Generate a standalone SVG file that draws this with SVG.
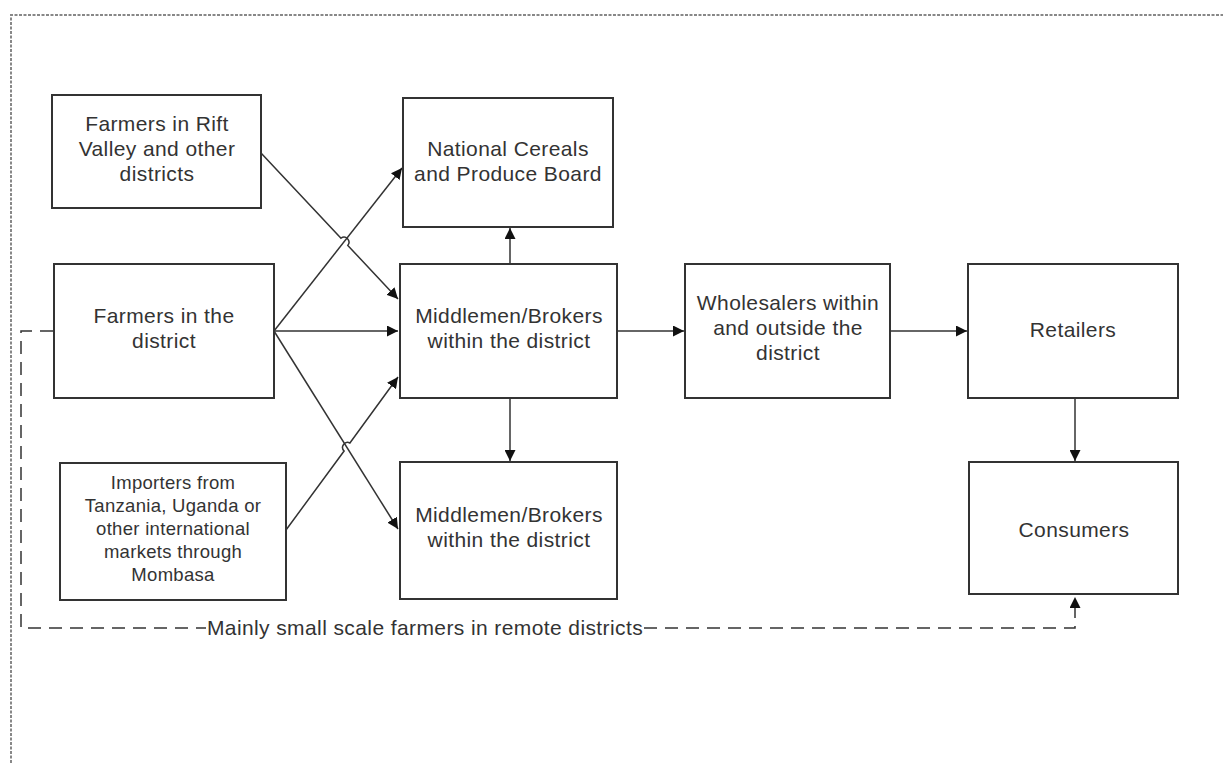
<svg xmlns="http://www.w3.org/2000/svg" width="1223" height="763" viewBox="0 0 1223 763">
<defs>
<style>
.box{fill:#fff;stroke:#333;stroke-width:2}
.t{font-family:"Liberation Sans",Arial,sans-serif;font-size:21px;letter-spacing:0.4px;fill:#333;text-anchor:middle}
.ts{font-family:"Liberation Sans",Arial,sans-serif;font-size:18.5px;letter-spacing:0.3px;fill:#333;text-anchor:middle}
.c{fill:none;stroke:#333;stroke-width:1.5}
.d{fill:none;stroke:#333;stroke-width:1.5;stroke-dasharray:13 8}
</style>
<marker id="ah" viewBox="0 0 10 10" refX="10" refY="5" markerWidth="11" markerHeight="11" markerUnits="userSpaceOnUse" orient="auto">
<path d="M0,0 L10,5 L0,10 z" fill="#111"/>
</marker>
</defs>
<rect width="1223" height="763" fill="#fff"/>
<path d="M11,763 V15 H1223" fill="none" stroke="#888" stroke-width="2" stroke-dasharray="3 1.5"/>

<g id="connectors">
<path class="c" d="M274,331 H398" marker-end="url(#ah)"/>
<path class="c" d="M274,331 L402,168" marker-end="url(#ah)"/>
<path class="c" d="M274,331 L398,529" marker-end="url(#ah)"/>
<path class="c" d="M261,153 L341,238.2 A5,5 0 0 1 347.8,245.4 L398,299" marker-end="url(#ah)"/>
<path class="c" d="M286,530 L344.1,451 A5,5 0 0 1 349.9,443 L398,377" marker-end="url(#ah)"/>
<path class="c" d="M510,264 V228" marker-end="url(#ah)"/>
<path class="c" d="M510,398 V461" marker-end="url(#ah)"/>
<path class="c" d="M617,331 H684" marker-end="url(#ah)"/>
<path class="c" d="M890,331 H967" marker-end="url(#ah)"/>
<path class="c" d="M1075,398 V461" marker-end="url(#ah)"/>
<path class="d" d="M53,331 H21 V628 H206"/>
<path class="d" d="M644,628 H1075 V597" marker-end="url(#ah)"/>
<text class="t" x="425" y="635">Mainly small scale farmers in remote districts</text>
</g>

<g id="n_rift">
<rect class="box" x="52" y="95" width="209" height="113"/>
<text class="t" x="157" y="131">Farmers in Rift</text>
<text class="t" x="157" y="156">Valley and other</text>
<text class="t" x="157" y="181">districts</text>
</g>
<g id="n_ncpb">
<rect class="box" x="403" y="98" width="210" height="129"/>
<text class="t" x="508" y="156">National Cereals</text>
<text class="t" x="508" y="181">and Produce Board</text>
</g>
<g id="n_farmers">
<rect class="box" x="54" y="264" width="220" height="134"/>
<text class="t" x="164" y="323">Farmers in the</text>
<text class="t" x="164" y="348">district</text>
</g>
<g id="n_mid">
<rect class="box" x="400" y="264" width="217" height="134"/>
<text class="t" x="509" y="323">Middlemen/Brokers</text>
<text class="t" x="509" y="348">within the district</text>
</g>
<g id="n_whole">
<rect class="box" x="685" y="264" width="205" height="134"/>
<text class="t" x="788" y="310">Wholesalers within</text>
<text class="t" x="788" y="335">and outside the</text>
<text class="t" x="788" y="360">district</text>
</g>
<g id="n_retail">
<rect class="box" x="968" y="264" width="210" height="134"/>
<text class="t" x="1073" y="337">Retailers</text>
</g>
<g id="n_import">
<rect class="box" x="60" y="463" width="226" height="137"/>
<text class="ts" x="173" y="489">Importers from</text>
<text class="ts" x="173" y="512">Tanzania, Uganda or</text>
<text class="ts" x="173" y="535">other international</text>
<text class="ts" x="173" y="558">markets through</text>
<text class="ts" x="173" y="581">Mombasa</text>
</g>
<g id="n_mid2">
<rect class="box" x="400" y="462" width="217" height="137"/>
<text class="t" x="509" y="522">Middlemen/Brokers</text>
<text class="t" x="509" y="547">within the district</text>
</g>
<g id="n_cons">
<rect class="box" x="969" y="462" width="209" height="132"/>
<text class="t" x="1074" y="537">Consumers</text>
</g>
</svg>
